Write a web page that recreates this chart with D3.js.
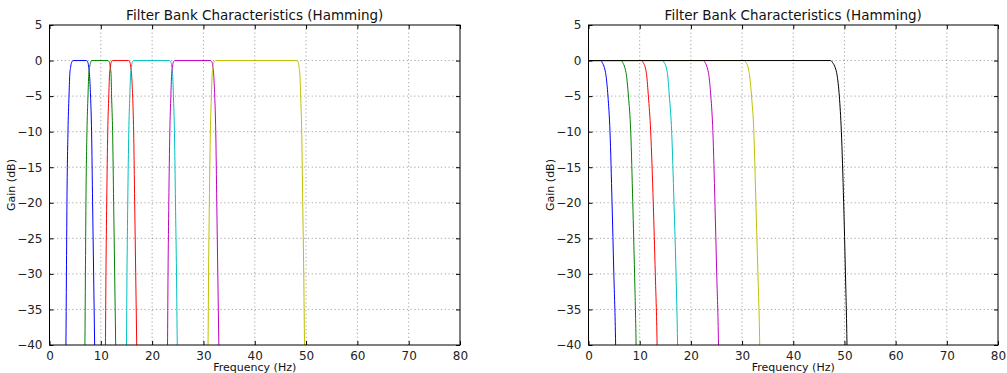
<!DOCTYPE html>
<html>
<head>
<meta charset="utf-8">
<script src="https://cdn.jsdelivr.net/npm/d3@7"></script>
<style>
body { margin: 0; background: #fff; }
svg { display: block; font-family: "DejaVu Sans", sans-serif; }
</style>
</head>
<body>
<script>
// tick values
var freqTicks = [0, 10, 20, 30, 40, 50, 60, 70, 80]
var gainTicks = [5, 0, -5, -10, -15, -20, -25, -30, -35, -40]

// band-pass responses (left), [freq Hz, gain dB]
var bandBlue = [[3.1,-45],[3.2,-40],[3.3,-30],[3.4,-20],[3.6,-10],[3.8,-5],[3.95,-2],[4.1,-1],[4.3,-0.3],[4.6,0],[7.2,0],[7.5,-0.3],[7.65,-1],[7.8,-2],[8.0,-5],[8.2,-10],[8.4,-20],[8.6,-30],[8.8,-40],[8.9,-45]]
var bandGreen = [[6.8,-45],[6.9,-40],[7.0,-30],[7.1,-20],[7.3,-10],[7.5,-5],[7.65,-2],[7.8,-1],[8.0,-0.3],[8.2,0],[11.4,0],[11.7,-0.3],[11.85,-1],[12.0,-2],[12.1,-5],[12.3,-10],[12.5,-20],[12.7,-30],[12.9,-40],[13.0,-45]]
var bandRed = [[10.8,-45],[10.9,-40],[11.0,-30],[11.15,-20],[11.35,-10],[11.55,-5],[11.7,-2],[11.85,-1],[12.0,-0.3],[12.3,0],[15.4,0],[15.7,-0.3],[15.85,-1],[16.0,-2],[16.2,-5],[16.4,-10],[16.6,-20],[16.8,-30],[17.0,-40],[17.1,-45]]
var bandCyan = [[14.9,-45],[15.0,-40],[15.1,-30],[15.25,-20],[15.45,-10],[15.65,-5],[15.8,-2],[15.95,-1],[16.1,-0.3],[16.4,0],[23.4,0],[23.7,-0.3],[23.85,-1],[24.0,-2],[24.15,-5],[24.35,-10],[24.55,-20],[24.75,-30],[24.9,-40],[25.0,-45]]
var bandMagenta = [[22.9,-45],[23.0,-40],[23.1,-30],[23.25,-20],[23.45,-10],[23.65,-5],[23.8,-2],[23.95,-1],[24.1,-0.3],[24.4,0],[31.4,0],[31.7,-0.3],[31.85,-1],[32.0,-2],[32.2,-5],[32.4,-10],[32.6,-20],[32.8,-30],[33.0,-40],[33.1,-45]]
var bandYellow = [[30.8,-45],[30.9,-40],[31.0,-30],[31.15,-20],[31.35,-10],[31.55,-5],[31.7,-2],[31.85,-1],[32.0,-0.3],[32.4,0],[48.2,0],[48.5,-0.3],[48.65,-1],[48.8,-2],[48.95,-5],[49.15,-10],[49.35,-20],[49.55,-30],[49.7,-40],[49.8,-45]]

// low-pass responses (right)
var lowBlue = [[0,0],[2.4,0],[2.7,-0.3],[3.1,-1],[3.4,-2],[3.8,-5],[4.2,-10],[4.6,-20],[4.95,-30],[5.3,-40],[5.4,-45]]
var lowGreen = [[0,0],[6.4,0],[6.7,-0.3],[7.1,-1],[7.4,-2],[7.8,-5],[8.25,-10],[8.65,-20],[9.0,-30],[9.3,-40],[9.4,-45]]
var lowRed = [[0,0],[10.4,0],[10.7,-0.3],[11.1,-1],[11.35,-2],[11.7,-5],[12.15,-10],[12.65,-20],[13.05,-30],[13.4,-40],[13.5,-45]]
var lowCyan = [[0,0],[14.5,0],[14.8,-0.3],[15.2,-1],[15.45,-2],[15.8,-5],[16.25,-10],[16.7,-20],[17.1,-30],[17.4,-40],[17.5,-45]]
var lowMagenta = [[0,0],[22.5,0],[22.8,-0.3],[23.2,-1],[23.5,-2],[23.9,-5],[24.3,-10],[24.7,-20],[25.05,-30],[25.4,-40],[25.5,-45]]
var lowYellow = [[0,0],[30.5,0],[30.8,-0.3],[31.2,-1],[31.45,-2],[31.85,-5],[32.3,-10],[32.7,-20],[33.1,-30],[33.45,-40],[33.55,-45]]
var lowBlack = [[0,0],[47.3,0],[47.7,-0.3],[48.2,-1],[48.55,-2],[49.0,-5],[49.4,-10],[49.85,-20],[50.2,-30],[50.5,-40],[50.6,-45]]

var titleText = "Filter Bank Characteristics (Hamming)"
var xLabel = "Frequency (Hz)"
var yLabel = "Gain (dB)"

var colors = ["#0000ff", "#008000", "#ff0000", "#00bfbf", "#bf00bf", "#bfbf00", "#000000"]

var W = 1007, H = 373
var svg = d3.select("body").append("svg").attr("width", W).attr("height", H)

function panel(id, left, right, series)
{
	var top = 25, bottom = 345
	var x = d3.scaleLinear().domain([0, 80]).range([left, right])
	var y = d3.scaleLinear().domain([-40, 5]).range([bottom, top])
	var g = svg.append("g")

	g.append("clipPath").attr("id", id)
		.append("rect")
		.attr("x", left).attr("y", top)
		.attr("width", right - left).attr("height", bottom - top)

	// grid
	g.append("g").selectAll("line").data(freqTicks.slice(1, -1)).enter().append("line")
		.attr("x1", function(d){return x(d)}).attr("x2", function(d){return x(d)})
		.attr("y1", top).attr("y2", bottom)
		.attr("stroke", "#666").attr("stroke-width", 0.6).attr("stroke-dasharray", "1.2,2.6")
	g.append("g").selectAll("line").data(gainTicks.slice(1, -1)).enter().append("line")
		.attr("y1", function(d){return y(d)}).attr("y2", function(d){return y(d)})
		.attr("x1", left).attr("x2", right)
		.attr("stroke", "#666").attr("stroke-width", 0.6).attr("stroke-dasharray", "1.2,2.6")

	var line = d3.line()
		.x(function(d){return x(d[0])})
		.y(function(d){return y(d[1])})
		.curve(d3.curveMonotoneX)

	g.append("g").attr("clip-path", "url(#" + id + ")")
		.selectAll("path").data(series).enter().append("path")
		.attr("d", line)
		.attr("fill", "none")
		.attr("stroke", function(d, i){return colors[i]})
		.attr("stroke-width", 1)

	// axes, ticks inward, on all four sides
	var xb = d3.axisBottom(x).tickValues(freqTicks).tickSizeInner(-4).tickSizeOuter(0).tickPadding(6)
	var yl = d3.axisLeft(y).tickValues(gainTicks).tickSizeInner(-4).tickSizeOuter(0).tickPadding(7)
		.tickFormat(function(d){return d < 0 ? "\u2212" + (-d) : d})
	var xt = d3.axisTop(x).tickValues(freqTicks).tickSizeInner(-4).tickSizeOuter(0).tickFormat("")
	var yr = d3.axisRight(y).tickValues(gainTicks).tickSizeInner(-4).tickSizeOuter(0).tickFormat("")

	var axes = [
		g.append("g").attr("transform", "translate(0," + bottom + ")").call(xb),
		g.append("g").attr("transform", "translate(" + left + ",0)").call(yl),
		g.append("g").attr("transform", "translate(0," + top + ")").call(xt),
		g.append("g").attr("transform", "translate(" + right + ",0)").call(yr)
	]
	axes.forEach(function(a){
		a.select(".domain").remove()
		a.selectAll("line").attr("stroke", "#000")
		a.selectAll("text").attr("fill", "#222").style("font-size", "12px")
			.style("font-family", "'DejaVu Sans', sans-serif")
	})

	g.append("rect")
		.attr("x", left).attr("y", top)
		.attr("width", right - left).attr("height", bottom - top)
		.attr("fill", "none").attr("stroke", "#000").attr("stroke-width", 1)

	g.append("text")
		.attr("x", (left + right) / 2).attr("y", 20)
		.attr("text-anchor", "middle").style("font-size", "13.5px").attr("fill", "#111")
		.text(titleText)
	g.append("text")
		.attr("x", (left + right) / 2).attr("y", 371)
		.attr("text-anchor", "middle").style("font-size", "11px").attr("fill", "#111")
		.text(xLabel)
	g.append("text")
		.attr("transform", "translate(" + (left - 35) + "," + ((top + bottom) / 2) + ") rotate(-90)")
		.attr("text-anchor", "middle").style("font-size", "11px").attr("fill", "#111")
		.text(yLabel)
}

panel("clipL", 49.5, 460, [bandBlue, bandGreen, bandRed, bandCyan, bandMagenta, bandYellow])
panel("clipR", 588.5, 998, [lowBlue, lowGreen, lowRed, lowCyan, lowMagenta, lowYellow, lowBlack])
</script>
</body>
</html>
